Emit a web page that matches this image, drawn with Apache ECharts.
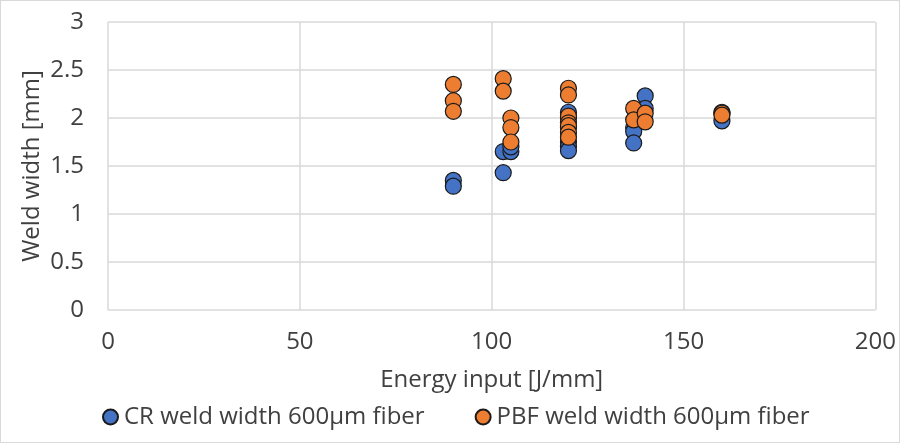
<!DOCTYPE html>
<html>
<head>
<meta charset="utf-8">
<script src="https://cdn.jsdelivr.net/npm/echarts@6/dist/echarts.min.js"></script>
<style>
  html, body { margin: 0; padding: 0; background: #fff; }
  #chart { width: 900px; height: 443px; box-sizing: border-box; border: 1px solid #d9d9d9; }
</style>
</head>
<body>
<div id="chart"></div>
<script>
// CR weld width 600µm fiber: [energy input, weld width]
const crData = [
  [90, 1.35], [90, 1.29],
  [103, 1.65], [103, 1.43], [105, 1.65], [105, 1.7],
  [120, 2.06], [120, 2.0], [120, 1.9], [120, 1.75], [120, 1.7], [120, 1.66],
  [137, 1.9], [137, 1.86], [137, 1.74],
  [140, 2.23], [140, 2.1],
  [160, 2.06], [160, 1.97]
]
// PBF weld width 600µm fiber
const pbfData = [
  [90, 2.35], [90, 2.18], [90, 2.07],
  [103, 2.41], [103, 2.28],
  [105, 2.0], [105, 1.9], [105, 1.75],
  [120, 2.31], [120, 2.24], [120, 2.02], [120, 1.95], [120, 1.92], [120, 1.85], [120, 1.8],
  [137, 2.1], [137, 1.98],
  [140, 2.05], [140, 1.96],
  [160, 2.05], [160, 2.03]
]
const seriesNames = ['CR weld width 600µm fiber', 'PBF weld width 600µm fiber']
const colors = ['#4472C4', '#ED7D31']

const fontFamily = '"Open Sans", sans-serif'
const fontSize = 24
const textColor = '#404040'
const gridColor = '#d9d9d9'

const myChart = echarts.init(document.getElementById('chart'))
const option = {
  animation: false,
  textStyle: { fontFamily },
  grid: { left: 107, right: 21, top: 21, bottom: 132, containLabel: false },
  legend: {
    bottom: 8,
    left: 96,
    itemGap: 50,
    itemWidth: 15,
    itemHeight: 15,
    icon: 'circle',
    textStyle: { color: textColor, fontSize, fontFamily, padding: [0, 0, 0, 1] },
    data: seriesNames
  },
  xAxis: {
    type: 'value',
    min: 0,
    max: 200,
    interval: 50,
    name: 'Energy input [J/mm]',
    nameLocation: 'middle',
    nameGap: 58,
    nameMoveOverlap: false,
    nameTextStyle: { color: textColor, fontSize, fontFamily },
    axisLine: { show: false },
    axisTick: { show: false },
    axisLabel: { color: textColor, fontSize, margin: 20, fontFamily },
    splitLine: { show: true, lineStyle: { color: gridColor, width: 1.5 } }
  },
  yAxis: {
    type: 'value',
    min: 0,
    max: 3,
    interval: 0.5,
    name: 'Weld width [mm]',
    nameLocation: 'middle',
    nameGap: 64,
    nameMoveOverlap: false,
    nameTextStyle: { color: textColor, fontSize, fontFamily },
    axisLine: { show: false },
    axisTick: { show: false },
    axisLabel: { color: textColor, fontSize, margin: 24, fontFamily },
    splitLine: { show: true, lineStyle: { color: gridColor, width: 1.5 } }
  },
  series: [crData, pbfData].map((data, i) => ({
    name: seriesNames[i],
    type: 'scatter',
    data,
    symbolSize: 16,
    itemStyle: { color: colors[i], borderColor: '#1a1a1a', borderWidth: 1.2, opacity: 1 }
  }))
}
myChart.setOption(option)
</script>
</body>
</html>
